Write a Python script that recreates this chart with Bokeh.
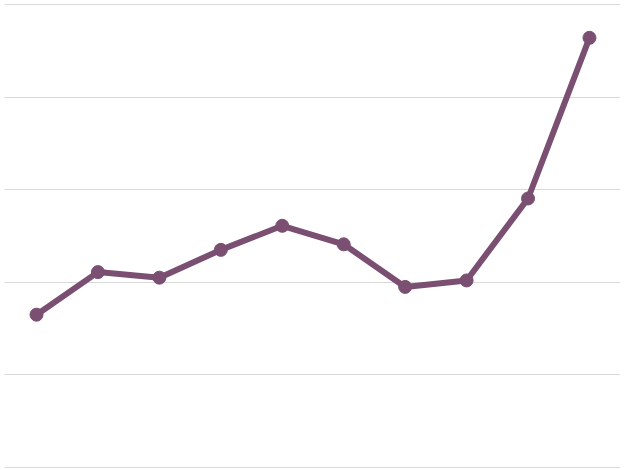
from bokeh.plotting import figure
from bokeh.embed import file_html
from bokeh.resources import INLINE
from bokeh.models import FixedTicker

# data
periods = list(range(10))
values = [16.5, 21.1, 20.5, 23.5, 26.1, 24.1, 19.5, 20.2, 29.05, 46.4]
y_ticks = [0, 10, 20, 30, 40, 50]

color = "#7a4f72"

p = figure(width=620, height=468, output_backend="svg", toolbar_location=None,
           x_range=(-0.521, 9.505), y_range=(-0.11, 50.43), min_border=0,
           min_border_left=4, outline_line_color=None)

p.xaxis.visible = False
p.yaxis.visible = False
p.yaxis.ticker = FixedTicker(ticks=y_ticks)
p.xgrid.grid_line_color = None
p.ygrid.grid_line_color = "#d9d9d9"
p.ygrid.grid_line_width = 1

p.line(periods, values, line_color=color, line_width=6, line_join="round")
p.scatter(periods, values, size=13, fill_color=color, line_color=color)

open("out.html", "w").write(file_html(p, INLINE))
